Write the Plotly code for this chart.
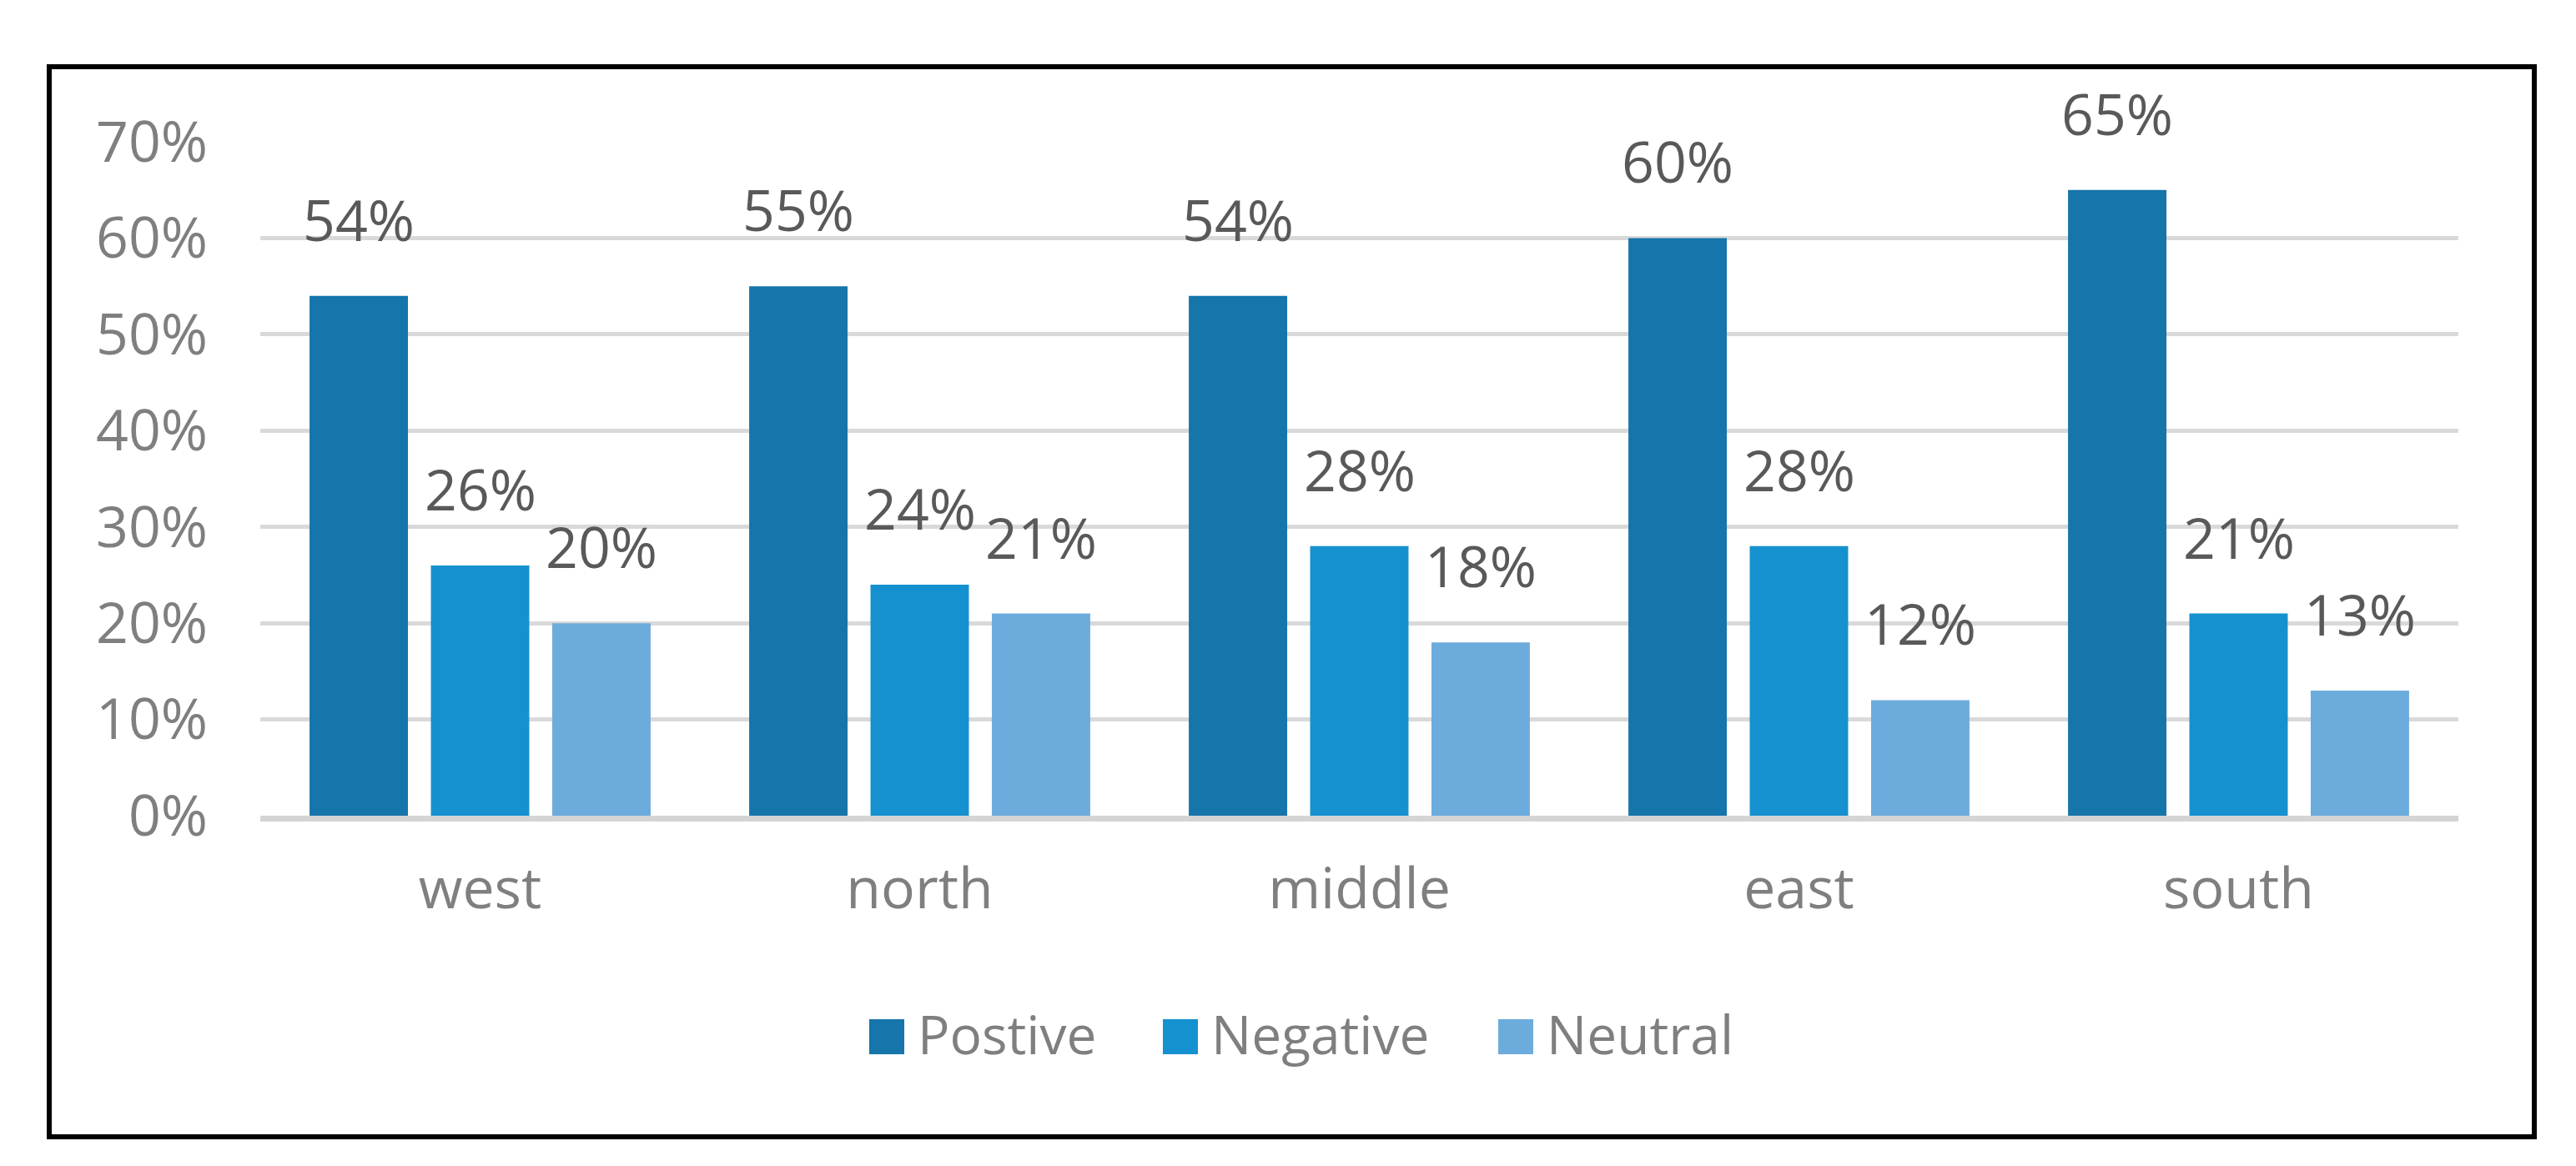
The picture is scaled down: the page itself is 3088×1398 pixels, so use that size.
import plotly.graph_objects as go

categories = ["west", "north", "middle", "east", "south"]
series_names = ["Postive", "Negative", "Neutral"]
positive = [0.54, 0.55, 0.54, 0.60, 0.65]
negative = [0.26, 0.24, 0.28, 0.28, 0.21]
neutral = [0.20, 0.21, 0.18, 0.12, 0.13]
y_ticks = [0, 0.1, 0.2, 0.3, 0.4, 0.5, 0.6, 0.7]
y_ticktext = ["0%", "10%", "20%", "30%", "40%", "50%", "60%", "70%"]

colors = ["#1675aa", "#1591d0", "#6cacdd"]
series = [positive, negative, neutral]

W, H = 3088, 1398
ML, MR, MT, MB = 304, 149, 162, 428
BARGAP = 0.172
GROUPGAP = 0.189
FONT = "Open Sans"

pw = W - ML - MR
ph = H - MT - MB


def px_x(p):
    return (p - ML) / pw


def px_y(p):
    return (H - MB - p) / ph


fig = go.Figure()
for name, vals, col in zip(series_names, series, colors):
    fig.add_trace(go.Bar(x=categories, y=vals, name=name, showlegend=False,
                         marker=dict(color=col, line=dict(width=0))))

# data labels
slot = (1 - BARGAP) / len(series)
annotations = []
for j, vals in enumerate(series):
    for i, v in enumerate(vals):
        annotations.append(dict(
            x=i + (j - 1) * slot, y=v, xref="x", yref="y",
            text=f"{round(v * 100)}%", showarrow=False,
            yanchor="bottom", yshift=44,
            font=dict(family=FONT, size=68, color="#595959")))

shapes = []
# outer frame
shapes.append(dict(type="rect", xref="paper", yref="paper",
                   x0=px_x(51), x1=px_x(3030), y0=px_y(1355), y1=px_y(72),
                   line=dict(color="black", width=6), fillcolor="rgba(0,0,0,0)",
                   layer="above"))

# legend (drawn manually for large swatches)
legend_left = [1034, 1386, 1788]
sw, sh = 42, 42
ly = 1235
for name, col, lx in zip(series_names, colors, legend_left):
    shapes.append(dict(type="rect", xref="paper", yref="paper",
                       x0=px_x(lx), x1=px_x(lx + sw),
                       y0=px_y(ly + sh / 2), y1=px_y(ly - sh / 2),
                       line=dict(width=0), fillcolor=col))
    annotations.append(dict(x=px_x(lx + sw + 14), y=px_y(ly - 4), xref="paper", yref="paper",
                            text=name, showarrow=False, xanchor="left", yanchor="middle",
                            font=dict(family=FONT, size=64, color="#7f7f7f")))

fig.update_layout(
    width=W, height=H,
    margin=dict(l=ML, r=MR, t=MT, b=MB),
    paper_bgcolor="white", plot_bgcolor="white",
    barmode="group", bargap=BARGAP, bargroupgap=GROUPGAP,
    font=dict(family=FONT, size=68, color="#7f7f7f"),
    showlegend=False,
    annotations=annotations,
    shapes=shapes,
)
fig.update_xaxes(showgrid=False, showline=True, linecolor="#d4d4d4", linewidth=7,
                 ticks="", tickfont=dict(family=FONT, size=68, color="#7f7f7f"),
                 ticklabelstandoff=22)
fig.update_yaxes(range=[0, 0.7], tickvals=y_ticks, ticktext=y_ticktext,
                 showgrid=True, gridcolor="#d9d9d9", gridwidth=5,
                 zeroline=False, showline=False, ticks="",
                 tickfont=dict(family=FONT, size=68, color="#7f7f7f"),
                 ticklabelstandoff=62)

fig.write_html("out.html")
